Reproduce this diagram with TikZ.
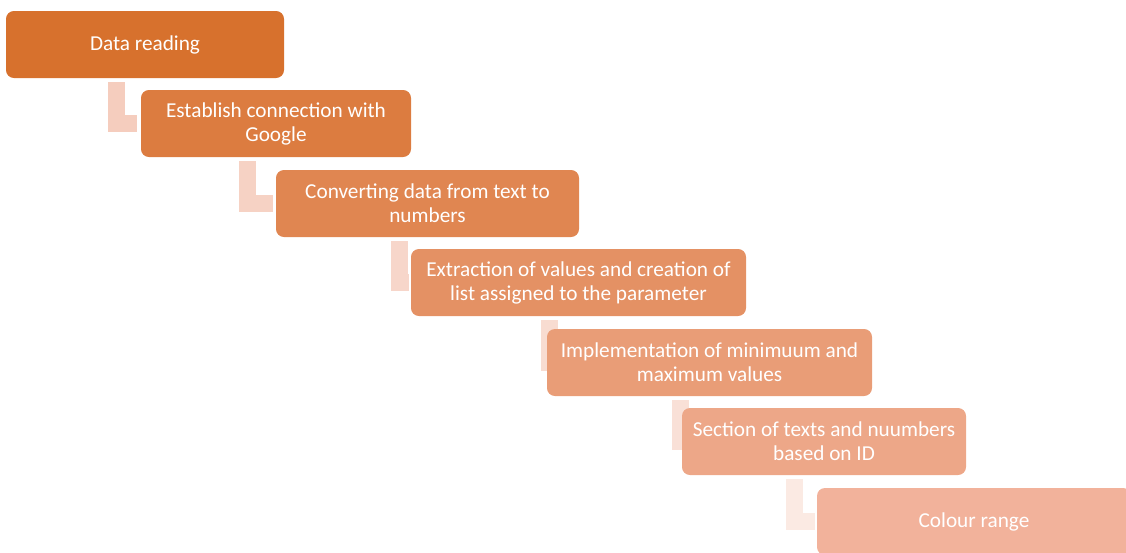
\documentclass[tikz,border=0pt]{standalone}
\usepackage{fontspec}
\setmainfont{Carlito}
\usetikzlibrary{positioning, calc, backgrounds}
\definecolor{stepFirst}{RGB}{215,113,45}
\definecolor{stepLast}{RGB}{242,178,155}
\definecolor{linkFirst}{RGB}{245,205,190}
\definecolor{linkLast}{RGB}{251,234,227}
\newcommand{\px}{0.02646cm}
\tikzstyle{stepbox} = [rectangle, rounded corners=0.21cm, minimum height=67*\px, inner sep=0pt, align=center, text=white, font=\fontsize{16}{18}\selectfont]
\tikzstyle{link} = [line width=0.45cm, line join=miter]

\begin{document}
\begin{tikzpicture}[x=\px, y=-\px]
    \clip (0,0) rectangle (1126,552);

    % Steps
    \node (data_read) [stepbox, fill=stepFirst, minimum width=278*\px] at (145,44.5) {Data reading};
    \node (est_conn) [stepbox, fill=stepFirst!83!stepLast, minimum width=270*\px] at (276,123.5) {Establish connection with\\Google};
    \node (conv_data) [stepbox, fill=stepFirst!67!stepLast, minimum width=303*\px] at (427.5,203.5) {Converting data from text to\\numbers};
    \node (extr_val) [stepbox, fill=stepFirst!50!stepLast, minimum width=335*\px] at (578.5,282.5) {Extraction of values and creation of\\list assigned to the parameter};
    \node (impl_minmax) [stepbox, fill=stepFirst!33!stepLast, minimum width=325*\px] at (709.5,362.5) {Implementation of minimuum and\\maximum values};
    \node (sel_text) [stepbox, fill=stepFirst!17!stepLast, minimum width=284*\px] at (824,441.5) {Section of texts and nuumbers\\based on ID};
    \node (col_range) [stepbox, fill=stepLast, minimum width=314*\px] at (974,521.5) {Colour range};

    % Elbow links behind the steps
    \begin{pgfonlayer}{background}
        \draw [link, linkFirst] ($(data_read.south west)+(110.5,4)$) |- ($(est_conn.west)+(-4,0)$);
        \draw [link, linkFirst!83!linkLast] ($(est_conn.south west)+(106.5,4)$) |- ($(conv_data.west)+(-3,0)$);
        \draw [link, linkFirst!67!linkLast] ($(conv_data.south west)+(123.5,4)$) |- ($(extr_val.west)+(-2,0)$);
        \draw [link, linkFirst!50!linkLast] ($(extr_val.south west)+(139,4)$) |- ($(impl_minmax.west)+(13,0)$);
        \draw [link, linkFirst!33!linkLast] ($(impl_minmax.south west)+(134,4)$) |- ($(sel_text.west)+(10,0)$);
        \draw [link, linkLast] ($(sel_text.south west)+(113,4)$) |- ($(col_range.west)+(-2,0)$);
    \end{pgfonlayer}
\end{tikzpicture}
\end{document}
